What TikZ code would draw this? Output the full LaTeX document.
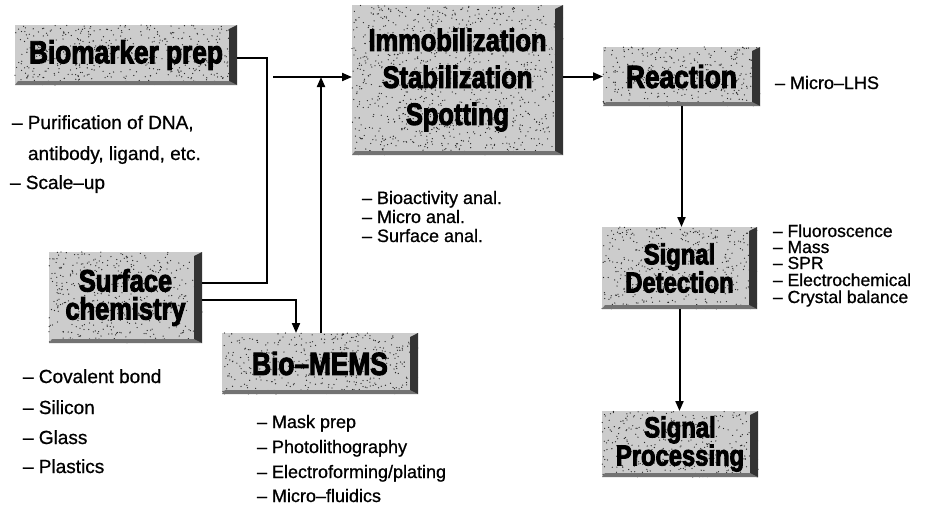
\documentclass[tikz,border=0pt]{standalone}
\usepackage{fontspec}
\setmainfont{Liberation Sans}[FakeBold=0.8]
\newfontfamily\titlefont[FakeStretch=0.82,FakeBold=3]{Liberation Sans}
\usetikzlibrary{arrows.meta,calc,backgrounds}
\tikzset{
  tnode/.style={rectangle, inner sep=0pt, outer sep=0pt, align=center, font=\titlefont\bfseries},
  lst/.style={anchor=base west, inner sep=0pt, outer sep=0pt, font=\fontsize{18}{18}\selectfont},
  ln/.style={line width=2pt},
  arr/.style={line width=2pt, -{Triangle[length=10pt,width=8pt]}},
  boxfill/.style={fill=black!20},
}
\newcommand{\boxdeco}[2]{%
  \fill[boxfill] (#1.south west) rectangle (#1.north east);
  \foreach \k in {1,...,#2}{%
    \path ($(#1.south west)!{rnd}!(#1.south east)$) coordinate (dx)
          ($(#1.south west)!{rnd}!(#1.north west)$) coordinate (dy);
    \fill[black!85] (dx |- dy) circle (0.65pt);
  }
  \fill[black!55] (#1.south west) -- ([xshift=3pt,yshift=4pt]#1.south west)
     -- ([xshift=-8pt,yshift=4pt]#1.south east) -- (#1.south east) -- cycle;
  \fill[black!80] (#1.north east) -- ([xshift=-8pt,yshift=-4pt]#1.north east)
     -- ([xshift=-8pt,yshift=4pt]#1.south east) -- (#1.south east) -- cycle;
}
\begin{document}
\begin{tikzpicture}[x=1pt,y=-1pt]
\useasboundingbox (0,0) rectangle (930,506);
\pgfmathsetseed{12345}

% boxes
\node[tnode, minimum width=222pt, minimum height=60pt, font=\titlefont\bfseries\fontsize{32}{32}\selectfont] (bio) at (126,55) {Biomarker prep};
\node[tnode, minimum width=211pt, minimum height=150pt, font=\titlefont\bfseries\fontsize{31}{37}\selectfont] (imm) at (457.5,80) {Immobilization\\Stabilization\\Spotting};
\node[tnode, minimum width=157pt, minimum height=59pt, font=\titlefont\bfseries\fontsize{32}{32}\selectfont] (rea) at (681.5,76.5) {Reaction};
\node[tnode, minimum width=153pt, minimum height=91pt, font=\titlefont\bfseries\fontsize{31}{28}\selectfont] (sur) at (125.5,297.5) {Surface\\chemistry};
\node[tnode, minimum width=196pt, minimum height=61pt, font=\titlefont\bfseries\fontsize{32}{32}\selectfont] (mems) at (320,363.5) {Bio–MEMS};
\node[tnode, minimum width=155pt, minimum height=82pt, font=\titlefont\bfseries\fontsize{29}{24}\selectfont] (det) at (679.5,268) {Signal\\Detection};
\node[tnode, minimum width=156pt, minimum height=66pt, font=\titlefont\bfseries\fontsize{29}{26}\selectfont] (proc) at (680,444) {Signal\\Processing};

\begin{pgfonlayer}{background}
  \fill[white] (0,0) rectangle (930,506);
  \boxdeco{bio}{450}
  \boxdeco{imm}{1000}
  \boxdeco{rea}{320}
  \boxdeco{sur}{460}
  \boxdeco{mems}{400}
  \boxdeco{det}{420}
  \boxdeco{proc}{350}
\end{pgfonlayer}

% connectors
\coordinate (j1) at (267,283);
\draw[ln] ([yshift=-3pt]bio.east) -| (j1) -- (j1 -| sur.east);
\coordinate (m) at (273,77);
\draw[arr] (m) -- (m -| imm.west);
\coordinate (mu) at (321,77);
\draw[arr] (mu |- mems.north) -- (mu);
\coordinate (md) at (296,300);
\draw[arr] (md -| sur.east) -- (md) -- (md |- mems.north);
\draw[arr] (imm.east |- rea.west) -- (rea.west);
\draw[arr] (rea.south) -- (rea.south |- det.north);
\draw[arr] (det.south) -- (det.south |- proc.north);

% lists
\node[lst, font=\fontsize{19}{19}\selectfont] (b1) at (12,129) {– Purification of DNA,};
\node[lst, font=\fontsize{19}{19}\selectfont] (b2) at (28,160) {antibody, ligand, etc.};
\node[lst, font=\fontsize{19}{19}\selectfont] (b3) at (10,189) {– Scale–up};

\node[lst] (i1) at (362,204) {– Bioactivity anal.};
\node[lst] (i2) at (362,223) {– Micro anal.};
\node[lst] (i3) at (362,242) {– Surface anal.};

\node[lst] (r1) at (775,89) {– Micro–LHS};

\node[lst, font=\fontsize{17.5}{17.5}\selectfont] (d1) at (773,237) {– Fluoroscence};
\node[lst, font=\fontsize{17.5}{17.5}\selectfont] (d2) at (773,253) {– Mass};
\node[lst, font=\fontsize{17.5}{17.5}\selectfont] (d3) at (773,269) {– SPR};
\node[lst, font=\fontsize{17.5}{17.5}\selectfont] (d4) at (773,286) {– Electrochemical};
\node[lst, font=\fontsize{17.5}{17.5}\selectfont] (d5) at (773,303) {– Crystal balance};

\node[lst, font=\fontsize{19}{19}\selectfont] (s1) at (23,383) {– Covalent bond};
\node[lst, font=\fontsize{19}{19}\selectfont] (s2) at (23,414) {– Silicon};
\node[lst, font=\fontsize{19}{19}\selectfont] (s3) at (23,444) {– Glass};
\node[lst, font=\fontsize{19}{19}\selectfont] (s4) at (23,473) {– Plastics};

\node[lst] (m1) at (257,428) {– Mask prep};
\node[lst] (m2) at (257,453) {– Photolithography};
\node[lst] (m3) at (257,478) {– Electroforming/plating};
\node[lst] (m4) at (257,502) {– Micro–fluidics};
\end{tikzpicture}
\end{document}
